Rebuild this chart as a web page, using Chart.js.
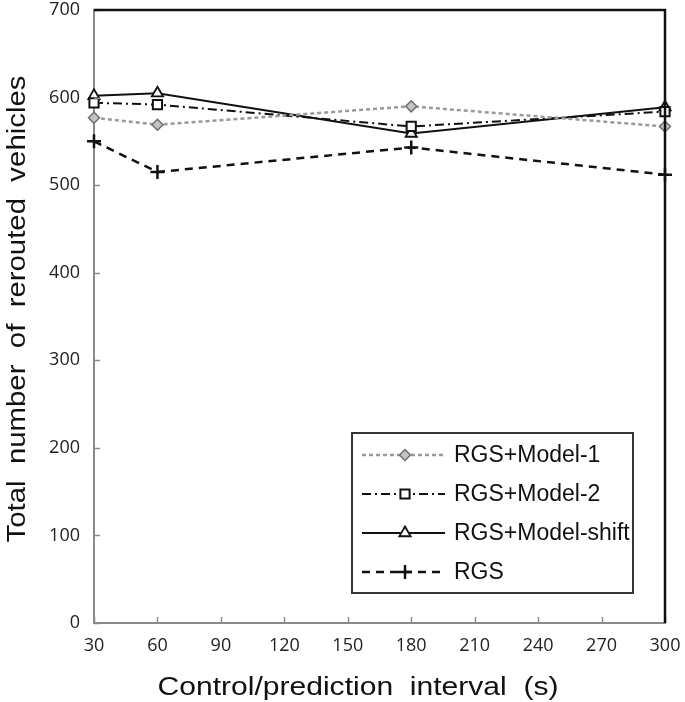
<!DOCTYPE html>
<html>
<head>
<meta charset="utf-8">
<script src="https://cdn.jsdelivr.net/npm/chart.js@4.4.1/dist/chart.umd.min.js"></script>
<style>
  html, body { margin: 0; padding: 0; background: #fff; }
  #wrap { width: 685px; height: 702px; position: relative; }
</style>
</head>
<body>
<div id="wrap"><canvas id="chart" width="685" height="702"></canvas></div>
<script>
// interval values (s)
const intervals = [30, 60, 180, 300];

// total rerouted vehicles per method
const model1 = [577, 569, 590, 567];
const model2 = [594, 592, 567, 584];
const modelShift = [602, 605, 559, 589];
const rgs = [550, 515, 543, 512];

const seriesNames = ["RGS+Model-1", "RGS+Model-2", "RGS+Model-shift", "RGS"];

const yTitle = "Total  number  of  rerouted  vehicles";
const xTitle = "Control/prediction  interval  (s)";

function pts(vals) {
    return vals.map((v, i) => ({x: intervals[i], y: v}));
}

// draws text stretched to a given width
function wideText(ctx, text, cx, cy, width) {
    const w = ctx.measureText(text).width;
    ctx.save();
    ctx.translate(cx, cy);
    ctx.scale(width / w, 1);
    ctx.fillText(text, 0, 0);
    ctx.restore();
}

// inward ticks, frame, titles, legend
const decor = {
    id: "decor",
    afterDraw(chart) {
        const ctx = chart.ctx;
        const a = chart.chartArea;
        const xs = chart.scales.x, ys = chart.scales.y;
        ctx.save();
        ctx.strokeStyle = "#8a8a8a";
        ctx.lineWidth = 1.5;
        ys.ticks.forEach(t => {
            const y = Math.round(ys.getPixelForValue(t.value)) + 0.5;
            ctx.beginPath(); ctx.moveTo(a.left, y); ctx.lineTo(a.left + 6, y); ctx.stroke();
        });
        xs.ticks.forEach(t => {
            const x = Math.round(xs.getPixelForValue(t.value)) + 0.5;
            ctx.beginPath(); ctx.moveTo(x, a.bottom); ctx.lineTo(x, a.bottom - 6); ctx.stroke();
        });
        // top and right frame
        ctx.strokeStyle = "#111";
        ctx.lineWidth = 2.5;
        ctx.beginPath(); ctx.moveTo(a.left, a.top); ctx.lineTo(a.right, a.top); ctx.lineTo(a.right, a.bottom); ctx.stroke();

        // axis titles
        ctx.fillStyle = "#111";
        ctx.font = "25px 'Liberation Sans', Arial, sans-serif";
        ctx.textAlign = "center";
        ctx.textBaseline = "middle";
        wideText(ctx, xTitle, 358, 688, 401);
        ctx.translate(18, 309);
        ctx.rotate(-Math.PI / 2);
        wideText(ctx, yTitle, 0, 0, 467);
        ctx.restore();

        // legend box
        ctx.save();
        const bx = 352, by = 433, bw = 281, bh = 160;
        ctx.fillStyle = "#fff";
        ctx.fillRect(bx, by, bw, bh);
        ctx.strokeStyle = "#333";
        ctx.lineWidth = 2;
        ctx.strokeRect(bx, by, bw, bh);
        chart.data.datasets.forEach((ds, i) => {
            const y = 455 + i * 39;
            ctx.save();
            ctx.strokeStyle = ds.borderColor;
            ctx.lineWidth = ds.borderWidth;
            ctx.setLineDash(ds.borderDash || []);
            ctx.beginPath(); ctx.moveTo(362, y); ctx.lineTo(445, y); ctx.stroke();
            ctx.restore();
            const opts = {
                pointStyle: ds.pointStyle, radius: ds.pointRadius, rotation: 0,
                borderWidth: ds.pointBorderWidth
            };
            ctx.fillStyle = ds.pointBackgroundColor;
            ctx.strokeStyle = ds.pointBorderColor;
            ctx.lineWidth = ds.pointBorderWidth;
            Chart.helpers.drawPoint(ctx, opts, 405, y);
            ctx.fillStyle = "#111";
            ctx.font = "23px 'Liberation Sans', Arial, sans-serif";
            ctx.textAlign = "left";
            ctx.textBaseline = "middle";
            ctx.fillText(ds.label, 454, y + 1);
        });
        ctx.restore();
    }
};

const tickFont = {family: "'Open Sans', 'DejaVu Sans', sans-serif", size: 18};

new Chart(document.getElementById("chart"), {
    type: "line",
    data: {
        datasets: [
            {
                label: seriesNames[0], data: pts(model1),
                borderColor: "#9a9a9a", borderWidth: 2.5, borderDash: [4, 3],
                pointStyle: "rectRot", pointRadius: 5.5, pointBorderWidth: 1.5,
                pointBackgroundColor: "#c4c4c4", pointBorderColor: "#6f6f6f"
            },
            {
                label: seriesNames[1], data: pts(model2),
                borderColor: "#111", borderWidth: 2, borderDash: [9, 4, 2, 4],
                pointStyle: "rect", pointRadius: 6.5, pointBorderWidth: 2,
                pointBackgroundColor: "#fff", pointBorderColor: "#111"
            },
            {
                label: seriesNames[2], data: pts(modelShift),
                borderColor: "#111", borderWidth: 2,
                pointStyle: "triangle", pointRadius: 6.5, pointBorderWidth: 1.8,
                pointBackgroundColor: "#fff", pointBorderColor: "#111"
            },
            {
                label: seriesNames[3], data: pts(rgs),
                borderColor: "#111", borderWidth: 2.5, borderDash: [8, 6],
                pointStyle: "cross", pointRadius: 7, pointBorderWidth: 2.5,
                pointBackgroundColor: "#111", pointBorderColor: "#111"
            }
        ]
    },
    options: {
        responsive: false,
        animation: false,
        clip: false,
        layout: {padding: {top: 10, right: 20, left: 0, bottom: 0}},
        plugins: {legend: {display: false}, tooltip: {enabled: false}},
        elements: {line: {tension: 0}},
        scales: {
            x: {
                type: "linear", min: 30, max: 300,
                afterFit: s => { s.height = 79; s.paddingLeft = 0; s.paddingRight = 0; },
                ticks: {stepSize: 30, padding: 12, color: "#222", font: tickFont},
                grid: {display: false, drawTicks: false},
                border: {color: "#8a8a8a", width: 2}
            },
            y: {
                min: 0, max: 700,
                afterFit: s => { s.width = 94; s.paddingTop = 0; s.paddingBottom = 0; },
                ticks: {stepSize: 100, padding: 14, color: "#222", font: tickFont},
                grid: {display: false, drawTicks: false},
                border: {color: "#8a8a8a", width: 2}
            }
        }
    },
    plugins: [decor]
});
</script>
</body>
</html>
